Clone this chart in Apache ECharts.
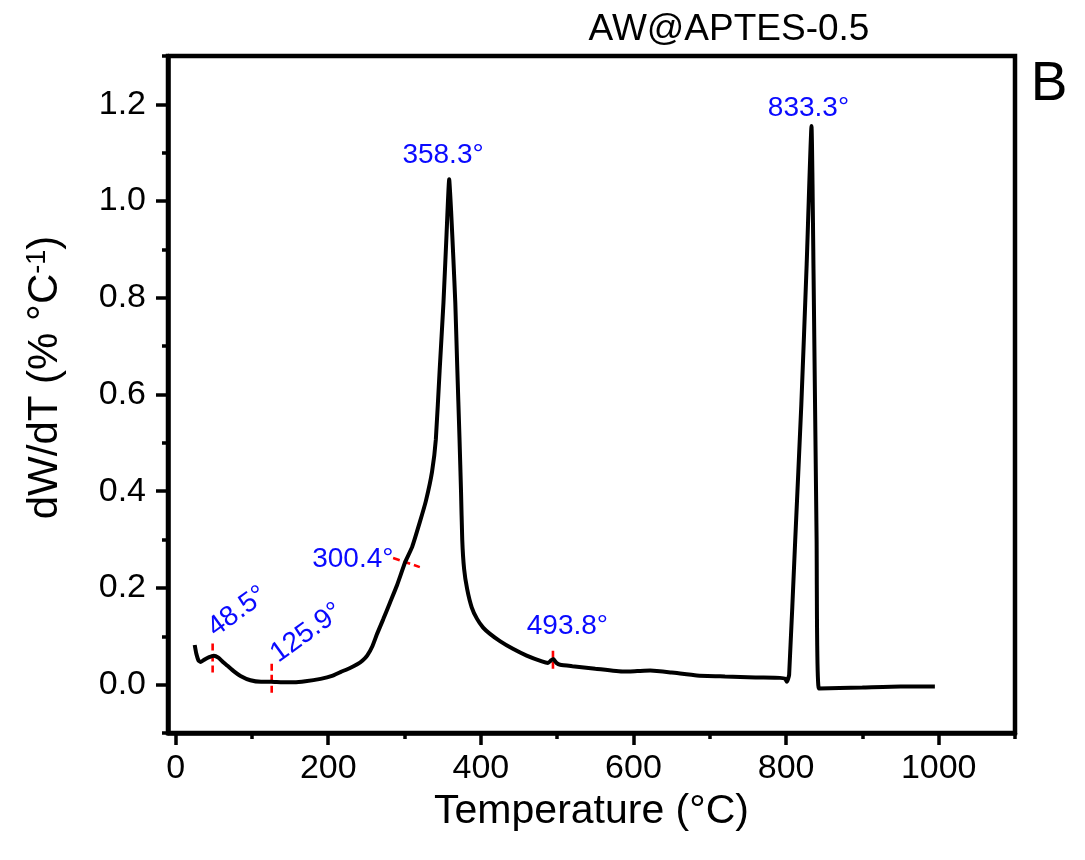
<!DOCTYPE html>
<html>
<head>
<meta charset="utf-8">
<script src="https://cdn.jsdelivr.net/npm/echarts@6/dist/echarts.min.js"></script>
<style>html,body{margin:0;padding:0;background:#fff}#c{width:1085px;height:860px}</style>
</head>
<body>
<div id="c"></div>
<script>
// ---- data ----
const temps = [25, 27, 30, 33, 38, 44, 50, 56, 62, 68, 76, 85, 98, 112, 125, 140, 155, 170, 190, 205, 216, 228, 238, 245, 251, 258, 264, 272, 281, 290, 301, 310, 320, 328, 336, 341, 346, 351, 355, 358.5, 361, 364, 366.5, 369, 372, 374, 375.6, 378, 382, 388, 395, 403, 412, 425, 442, 460, 480, 488, 492, 495, 499, 504, 520, 550, 587, 605, 622, 650, 683, 720, 760, 792, 799, 801, 804, 812, 820, 827, 833.3, 836, 840, 843, 870, 900, 950, 995];
const dwdt = [0.082, 0.065, 0.05, 0.047, 0.052, 0.057, 0.06, 0.056, 0.047, 0.039, 0.028, 0.018, 0.009, 0.006, 0.006, 0.005, 0.005, 0.007, 0.012, 0.018, 0.026, 0.034, 0.042, 0.05, 0.06, 0.08, 0.105, 0.135, 0.17, 0.205, 0.254, 0.285, 0.336, 0.38, 0.44, 0.507, 0.65, 0.79, 0.93, 1.045, 0.98, 0.88, 0.79, 0.66, 0.51, 0.40, 0.30, 0.24, 0.198, 0.16, 0.136, 0.118, 0.105, 0.09, 0.074, 0.06, 0.048, 0.045, 0.05, 0.053, 0.045, 0.041, 0.038, 0.033, 0.027, 0.028, 0.029, 0.025, 0.019, 0.017, 0.015, 0.014, 0.012, 0.006, 0.02, 0.30, 0.58, 0.87, 1.155, 0.85, 0.30, -0.008, -0.007, -0.006, -0.004, -0.004];

const xMajorTicks = [0, 200, 400, 600, 800, 1000];
const xMinorTicks = [100, 300, 500, 700, 900, 1100];
const yMajorTicks = [0, 0.2, 0.4, 0.6, 0.8, 1.0, 1.2];
const yMinorTicks = [-0.1, 0.1, 0.3, 0.5, 0.7, 0.9, 1.1, 1.3];

const annoTemps = [48.5, 125.9, 300.4, 358.3, 493.8, 833.3];
const annoValues = [0.06, 0.006, 0.254, 1.045, 0.053, 1.155];
const annoLabels = ['48.5°', '125.9°', '300.4°', '358.3°', '493.8°', '833.3°'];
// red dashed marker segments [[T1, v1], [T2, v2]]
const markerSegments = [
  [[48.5, 0.085], [48.5, 0.019]],
  [[125.9, 0.043], [125.9, -0.025]],
  [[285, 0.262], [320, 0.243]],
  [[494.5, 0.07], [494.5, 0.025]]
];

const titleText = 'AW@APTES-0.5';
const panelLetter = 'B';

// ---- styling / layout ----
const FONT = '"Liberation Sans", Arial, sans-serif';
// offsets are in the label's rotated frame
const labelStyles = [
  {rotate: 36, offset: [46, -21]},
  {rotate: 36, offset: [57, -19]},
  {rotate: 0, offset: [-52, -3]},
  {rotate: 0, offset: [-6, -24]},
  {rotate: 0, offset: [15, -33]},
  {rotate: 0, offset: [-3, -18]}
];

const chart = echarts.init(document.getElementById('c'), null, {renderer: 'canvas'});

const curve = temps.map((t, i) => [t, dwdt[i]]);
const annoData = annoTemps.map((t, i) => ({
  value: [t, annoValues[i]],
  label: {
    show: true,
    formatter: annoLabels[i],
    position: 'inside',
    rotate: labelStyles[i].rotate,
    offset: labelStyles[i].offset,
    color: '#0a0aff',
    fontSize: 28,
    fontFamily: FONT
  }
}));

const markerSeries = markerSegments.map(seg => ({
  type: 'line',
  xAxisIndex: 0, yAxisIndex: 0,
  data: seg,
  symbol: 'none',
  silent: true,
  z: 3,
  lineStyle: {color: '#ff0000', width: 2.6, type: [7, 4]}
}));

const axisCommon = {
  type: 'value',
  splitLine: {show: false}
};

const option = {
  animation: false,
  backgroundColor: '#ffffff',
  grid: {left: 168, top: 56, right: 70, bottom: 127, show: true, borderColor: '#000', borderWidth: 4.5, containLabel: false},
  xAxis: [
    Object.assign({}, axisCommon, {
      position: 'bottom', min: -10, max: 1100,
      name: 'Temperature (°C)', nameLocation: 'middle', nameGap: 49,
      nameTextStyle: {fontSize: 41, fontFamily: FONT, color: '#000'},
      axisLine: {show: true, onZero: false, lineStyle: {color: '#000', width: 4.5}},
      axisTick: {show: true, inside: false, length: 12, customValues: xMajorTicks, lineStyle: {color: '#000', width: 3.5}},
      axisLabel: {show: true, customValues: xMajorTicks, margin: 19, fontSize: 34, fontFamily: FONT, color: '#000',
        formatter: v => String(v)}
    }),
    Object.assign({}, axisCommon, {
      position: 'bottom', min: -10, max: 1100,
      axisLine: {show: false, onZero: false},
      axisTick: {show: true, inside: false, length: 6, customValues: xMinorTicks, lineStyle: {color: '#000', width: 3.5}},
      axisLabel: {show: false}
    })
  ],
  yAxis: [
    Object.assign({}, axisCommon, {
      position: 'left', min: -0.1, max: 1.3,
      name: '{n|dW/dT (% °C}{s|-1}{n|)}', nameLocation: 'middle', nameGap: 102, nameRotate: 90,
      nameTextStyle: {
        color: '#000',
        padding: [0, 0, 0, 34],
        rich: {
          n: {fontSize: 42, fontFamily: FONT, color: '#000'},
          s: {fontSize: 27, fontFamily: FONT, color: '#000', verticalAlign: 'top'}
        }
      },
      axisLine: {show: true, onZero: false, lineStyle: {color: '#000', width: 4.5}},
      axisTick: {show: true, inside: false, length: 12, customValues: yMajorTicks, lineStyle: {color: '#000', width: 3.5}},
      axisLabel: {show: true, customValues: yMajorTicks, margin: 22, fontSize: 34, fontFamily: FONT, color: '#000',
        formatter: v => Number(v).toFixed(1)}
    }),
    Object.assign({}, axisCommon, {
      position: 'left', min: -0.1, max: 1.3,
      axisLine: {show: false, onZero: false},
      axisTick: {show: true, inside: false, length: 6, customValues: yMinorTicks, lineStyle: {color: '#000', width: 3.5}},
      axisLabel: {show: false}
    })
  ],
  graphic: [
    {type: 'text', x: 729, y: 30, style: {text: titleText, fill: '#000', font: '37px ' + FONT, textAlign: 'center', textVerticalAlign: 'middle'}},
    {type: 'text', x: 1049, y: 85, style: {text: panelLetter, fill: '#000', font: '55px ' + FONT, textAlign: 'center', textVerticalAlign: 'middle'}}
  ],
  series: [
    {
      type: 'line',
      xAxisIndex: 0, yAxisIndex: 0,
      data: curve,
      symbol: 'none',
      smooth: 0.15,
      z: 4,
      lineStyle: {color: '#000', width: 4}
    },
    ...markerSeries,
    {
      type: 'scatter',
      xAxisIndex: 0, yAxisIndex: 0,
      data: annoData,
      symbolSize: 0,
      itemStyle: {opacity: 1},
      z: 5,
      silent: true
    }
  ]
};
chart.setOption(option);
</script>
</body>
</html>
